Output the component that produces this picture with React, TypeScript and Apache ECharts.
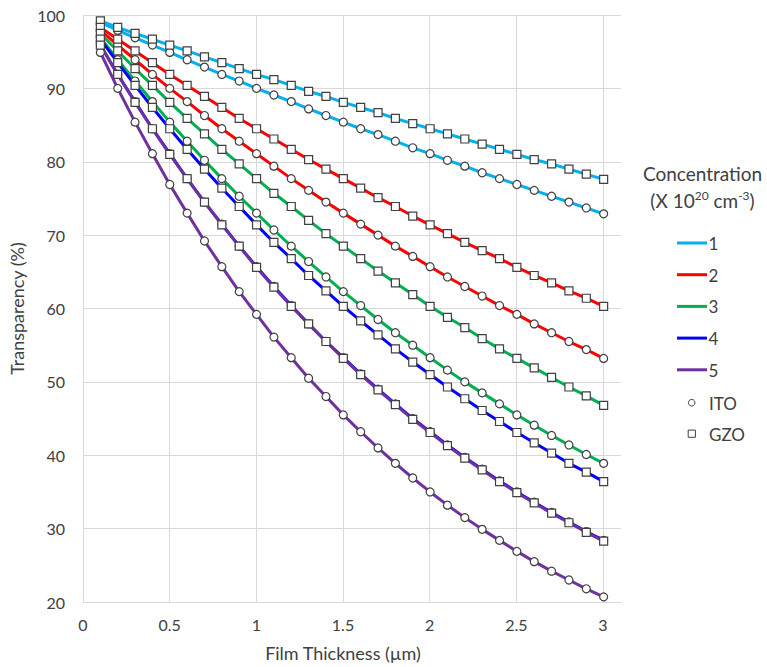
import React, { useEffect, useRef } from "react";
import * as echarts from "echarts";

// Film thickness (µm) sampled for every curve
const thickness = [
  0.1, 0.2, 0.3, 0.4, 0.5, 0.6, 0.7, 0.8, 0.9, 1.0,
  1.1, 1.2, 1.3, 1.4, 1.5, 1.6, 1.7, 1.8, 1.9, 2.0,
  2.1, 2.2, 2.3, 2.4, 2.5, 2.6, 2.7, 2.8, 2.9, 3.0,
];

// Concentration labels (x 10^20 cm^-3)
const concentrations = ["1", "2", "3", "4", "5"];
const concentrationColors = ["#00B0F0", "#FF0000", "#00B050", "#0000FF", "#7030A0"];
const materials = ["ITO", "GZO"];

// ITO transparency (%)
const ito1 = [99.0, 97.9, 96.9, 95.9, 94.9, 93.9, 92.9, 91.9, 91.0, 90.0, 89.1, 88.2, 87.2, 86.3, 85.4, 84.5, 83.7, 82.8, 81.9, 81.1, 80.2, 79.4, 78.5, 77.7, 76.9, 76.1, 75.3, 74.5, 73.7, 72.9];
const ito2 = [97.9, 95.9, 93.9, 91.9, 90.0, 88.2, 86.3, 84.5, 82.8, 81.1, 79.4, 77.7, 76.1, 74.5, 73.0, 71.5, 70.0, 68.5, 67.1, 65.7, 64.3, 63.0, 61.7, 60.4, 59.2, 57.9, 56.7, 55.5, 54.4, 53.2];
const ito3 = [96.9, 93.9, 91.0, 88.2, 85.4, 82.8, 80.2, 77.7, 75.3, 73.0, 70.7, 68.5, 66.4, 64.3, 62.3, 60.4, 58.5, 56.7, 55.0, 53.3, 51.6, 50.0, 48.5, 47.0, 45.5, 44.1, 42.7, 41.4, 40.1, 38.9];
const ito4 = [95.9, 91.9, 88.2, 84.5, 81.1, 77.7, 74.5, 71.5, 68.5, 65.7, 63.0, 60.4, 57.9, 55.5, 53.3, 51.1, 49.0, 47.0, 45.0, 43.2, 41.4, 39.7, 38.1, 36.5, 35.0, 33.6, 32.2, 30.9, 29.6, 28.4];
const ito5 = [94.9, 90.0, 85.4, 81.1, 76.9, 73.0, 69.2, 65.7, 62.3, 59.2, 56.1, 53.3, 50.5, 48.0, 45.5, 43.2, 41.0, 38.9, 36.9, 35.0, 33.2, 31.5, 29.9, 28.4, 26.9, 25.5, 24.2, 23.0, 21.8, 20.7];

// GZO transparency (%)
const gzo1 = [99.2, 98.3, 97.5, 96.7, 95.9, 95.1, 94.3, 93.5, 92.7, 91.9, 91.2, 90.4, 89.6, 88.9, 88.1, 87.4, 86.7, 85.9, 85.2, 84.5, 83.8, 83.1, 82.4, 81.7, 81.0, 80.3, 79.7, 79.0, 78.3, 77.6];
const gzo2 = [98.3, 96.7, 95.1, 93.5, 91.9, 90.4, 88.9, 87.4, 85.9, 84.5, 83.1, 81.7, 80.3, 79.0, 77.7, 76.4, 75.1, 73.9, 72.6, 71.4, 70.2, 69.0, 67.9, 66.8, 65.6, 64.5, 63.5, 62.4, 61.4, 60.3];
const gzo3 = [97.5, 95.1, 92.7, 90.4, 88.1, 85.9, 83.8, 81.7, 79.7, 77.7, 75.7, 73.9, 72.0, 70.2, 68.5, 66.8, 65.1, 63.5, 61.9, 60.3, 58.8, 57.4, 55.9, 54.5, 53.2, 51.9, 50.6, 49.3, 48.1, 46.8];
const gzo4 = [96.7, 93.5, 90.4, 87.4, 84.5, 81.7, 79.0, 76.4, 73.9, 71.4, 69.0, 66.8, 64.5, 62.4, 60.3, 58.3, 56.4, 54.5, 52.7, 51.0, 49.3, 47.7, 46.1, 44.6, 43.1, 41.7, 40.3, 38.9, 37.7, 36.4];
const gzo5 = [95.9, 91.9, 88.1, 84.5, 81.0, 77.7, 74.5, 71.4, 68.5, 65.6, 62.9, 60.3, 57.9, 55.5, 53.2, 51.0, 48.9, 46.9, 44.9, 43.1, 41.3, 39.6, 38.0, 36.4, 34.9, 33.5, 32.1, 30.8, 29.5, 28.3];

const itoValues = [ito1, ito2, ito3, ito4, ito5];
const gzoValues = [gzo1, gzo2, gzo3, gzo4, gzo5];

// Axis ranges
const yMin = 20;
const yMax = 100;
const yStep = 10;
const xMin = 0;
const xTickMax = 3;
const xAxisEnd = 3.1;
const xStep = 0.5;

const FONT = "Lato, 'Noto Sans', sans-serif";
const TEXT = "#404040";
const GRID = "#D9D9D9";

export default function App() {
  const ref = useRef<HTMLDivElement>(null);

  useEffect(() => {
    if (!ref.current) return;
    const chart = echarts.init(ref.current, undefined, { renderer: "svg" });

    const series: any[] = [];
    concentrations.forEach((c, n) => {
      [itoValues[n], gzoValues[n]].forEach((vals, m) => {
        series.push({
          type: "line",
          name: `${materials[m]} ${c}`,
          xAxisIndex: 0,
          yAxisIndex: 0,
          data: thickness.map((x, i) => [x, vals[i]]),
          symbol: m === 0 ? "circle" : "rect",
          symbolSize: 8,
          showSymbol: true,
          lineStyle: { color: concentrationColors[n], width: 3 },
          itemStyle: { color: "#FFFFFF", borderColor: "#404040", borderWidth: 1.2 },
          emphasis: { disabled: true },
          z: 2,
        });
      });
    });

    const graphic: any[] = [
      {
        type: "text",
        x: 702.5,
        y: 173,
        style: {
          text: "Concentration",
          font: `19px ${FONT}`,
          fill: TEXT,
          align: "center",
          verticalAlign: "middle",
        },
      },
      {
        type: "text",
        x: 702.5,
        y: 200,
        style: {
          text: "(X 10{sup|20} cm{sup|-3})",
          font: `19px ${FONT}`,
          fill: TEXT,
          align: "center",
          verticalAlign: "middle",
          rich: {
            sup: { fontSize: 12, fontFamily: FONT, fill: TEXT, padding: [0, 0, 9, 0] },
          },
        },
      },
    ];
    concentrations.forEach((c, n) => {
      const y = 243 + n * 31.7;
      graphic.push({
        type: "line",
        shape: { x1: 677, y1: y, x2: 707, y2: y },
        style: { stroke: concentrationColors[n], lineWidth: 3 },
      });
      graphic.push({
        type: "text",
        x: 708.5,
        y: y + 0.5,
        style: { text: c, font: `17px ${FONT}`, fill: TEXT, align: "left", verticalAlign: "middle" },
      });
    });
    materials.forEach((mat, m) => {
      const y = 402.7 + m * 31;
      if (m === 0) {
        graphic.push({
          type: "circle",
          shape: { cx: 691.7, cy: y, r: 3.3 },
          style: { fill: "#FFFFFF", stroke: "#404040", lineWidth: 1 },
        });
      } else {
        graphic.push({
          type: "rect",
          shape: { x: 688.2, y: y - 3.6, width: 7.2, height: 7.2 },
          style: { fill: "#FFFFFF", stroke: "#404040", lineWidth: 1 },
        });
      }
      graphic.push({
        type: "text",
        x: 709,
        y: y + 0.5,
        style: { text: mat, font: `17px ${FONT}`, fill: TEXT, align: "left", verticalAlign: "middle" },
      });
    });

    chart.setOption({
      animation: false,
      backgroundColor: "#FFFFFF",
      textStyle: { fontFamily: FONT },
      grid: [
        { left: 83, top: 15, width: 538, height: 587 },
        { left: 83, top: 15, width: 520, height: 587 },
      ],
      xAxis: [
        {
          type: "value",
          gridIndex: 0,
          min: xMin,
          max: xAxisEnd,
          interval: xStep,
          axisLine: { show: true, lineStyle: { color: GRID, width: 1 } },
          axisTick: { show: false },
          axisLabel: { show: false },
          splitLine: { show: false },
        },
        {
          type: "value",
          gridIndex: 1,
          min: xMin,
          max: xTickMax,
          interval: xStep,
          axisLine: { show: false },
          axisTick: { show: false },
          axisLabel: { color: TEXT, fontSize: 16, fontFamily: FONT, margin: 14 },
          splitLine: { show: true, lineStyle: { color: GRID, width: 1 } },
          name: "Film Thickness (µm)",
          nameLocation: "middle",
          nameGap: 42,
          nameTextStyle: { color: TEXT, fontSize: 18, fontFamily: FONT },
        },
      ],
      yAxis: [
        {
          type: "value",
          gridIndex: 0,
          min: yMin,
          max: yMax,
          interval: yStep,
          axisLine: { show: false },
          axisTick: { show: false },
          axisLabel: { color: TEXT, fontSize: 16, fontFamily: FONT, margin: 18 },
          splitLine: { show: true, lineStyle: { color: GRID, width: 1 } },
          name: "Transparency (%)",
          nameLocation: "middle",
          nameGap: 49,
          nameTextStyle: { color: TEXT, fontSize: 18, fontFamily: FONT },
        },
        {
          type: "value",
          gridIndex: 1,
          min: yMin,
          max: yMax,
          interval: yStep,
          show: false,
        },
      ],
      series,
      graphic,
    });

    return () => chart.dispose();
  }, []);

  return (
    <div
      ref={ref}
      style={{ position: "absolute", left: 0, top: 0, width: 767, height: 667, background: "#fff" }}
    />
  );
}
